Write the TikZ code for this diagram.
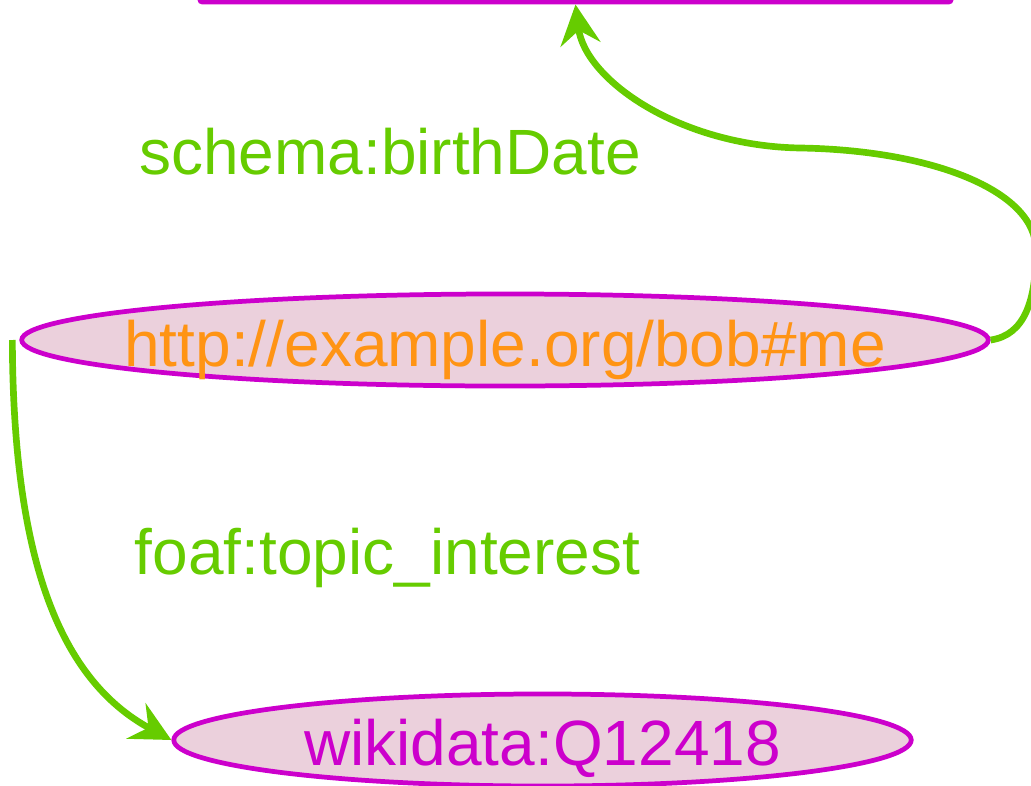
\documentclass[tikz,border=0pt]{standalone}
\usepackage{fontspec}
\setmainfont{Liberation Sans}
\usetikzlibrary{arrows.meta,shapes.geometric}
\definecolor{LinkGreen}{RGB}{102,204,0}
\definecolor{TermPurple}{RGB}{204,0,204}
\definecolor{TermPink}{RGB}{235,208,220}
\definecolor{IriOrange}{RGB}{255,148,20}

\begin{document}
\begin{tikzpicture}[x=0.01cm, y=-0.01cm,
	term/.style={ellipse, draw=TermPurple, fill=TermPink, line width=1.35pt, inner sep=0pt},
	literal/.style={rectangle, draw=TermPurple, fill=white, line width=1.35pt, rounded corners=0.8pt, inner sep=0pt},
	link/.style={draw=LinkGreen, line width=1.9pt, -{Stealth[length=0.4cm, width=0.4cm, inset=0.14cm]}},
	txt/.style={anchor=base, inner sep=0pt, font=\fontsize{18.2}{22}\selectfont}]
		\useasboundingbox (0,0) rectangle (1031,785);
		% nodes
		\node[literal, minimum width=7.51cm, minimum height=1cm, anchor=south] (date) at (575.5,4.5) {};
		\node[term, minimum width=9.66cm, minimum height=0.92cm] (bob) at (505,340) {};
		\node[term, minimum width=7.37cm, minimum height=0.92cm] (wiki) at (542.5,740) {};
		\node[txt, IriOrange] (bobtext) at (505,366.5) {http://example.org/bob\#me};
		\node[txt, TermPurple] (wikitext) at (542.5,765) {wikidata:Q12418};
		% edges
		\draw[link] (bob.east) .. controls (1025,335) and (1036,300) .. (1036,250)
			.. controls (1036,190) and (930,150) .. (800,148)
			.. controls (680,146) and (585,80) .. (date.south);
		\draw[link] ([xshift=-0.7mm]bob.west) .. controls (13,560) and (60,680) .. (wiki.west);
		\node[txt, LinkGreen] (birth) at (390,174) {schema:birthDate};
		\node[txt, LinkGreen] (topic) at (387.5,574) {foaf:topic\_interest};
\end{tikzpicture}
\end{document}
